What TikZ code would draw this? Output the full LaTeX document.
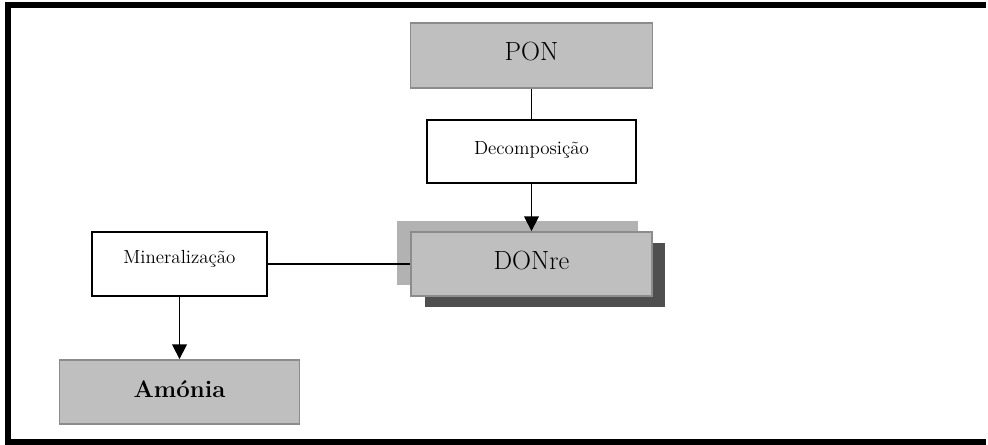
\documentclass[tikz,border=0pt]{standalone}
\usepackage{fontspec}
\usepackage{tikz}
\usetikzlibrary{arrows.meta, calc}

\begin{document}
\begin{tikzpicture}[
    x=0.025cm, y=-0.025cm,
    poolbox/.style={draw=black!45, line width=1.3pt, fill=black!25, inner sep=0pt,
        text height=10pt, text depth=2.6pt, font=\fontsize{18.7}{22}\selectfont},
    processbox/.style={draw=black, line width=1.1pt, fill=white, inner sep=0pt,
        text height=8pt, font=\fontsize{13.5}{16}\selectfont},
    flow/.style={-{Triangle[length=10.5pt, width=10.5pt]}, line width=1.2pt},
    link/.style={line width=1.2pt},
    outerframe/.style={line width=4.3pt}
]

% Fixed canvas
\useasboundingbox (0,0) rectangle (988,445);

% Outer frame (open on the right)
\draw[outerframe] (986,5) -- (8,5) -- (8,442) -- (986,442);

% ==========================================
% Shadows behind DONre
\fill[black!30] (397,221) rectangle (638,285);
\fill[black!69] (425,243) rectangle (665,307);

% ==========================================
% Pools and processes
\node[poolbox, minimum width=6.05cm, minimum height=1.625cm] (pon) at (531.5,55.5) {PON};
\node[processbox, text depth=3.8pt, minimum width=5.225cm, minimum height=1.575cm] (decomp) at (531.5,151.5) {Decomposição};
\node[poolbox, minimum width=6.025cm, minimum height=1.6cm] (donre) at (531.5,264) {DONre};
\node[processbox, text depth=8.8pt, minimum width=4.375cm, minimum height=1.6cm] (mineral) at (179.5,264) {Mineralização};
\node[poolbox, minimum width=6cm, minimum height=1.6cm, font=\fontsize{17}{20}\selectfont\bfseries] (amonia) at (179.5,392) {Amónia};

% ==========================================
% Connectors
\draw[link] (pon.south) -- (decomp.north);
\draw[flow] (decomp.south) -- (donre.north);
\draw[link] (mineral.east) -- (donre.west);
\draw[flow] (mineral.south) -- (amonia.north);

\end{tikzpicture}
\end{document}
